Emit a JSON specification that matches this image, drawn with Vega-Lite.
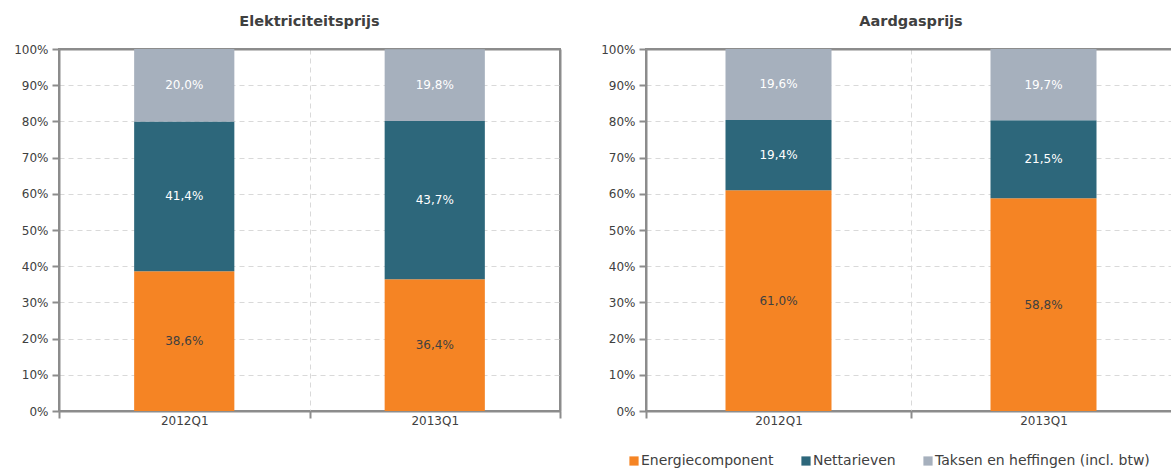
{
  "$schema": "https://vega.github.io/schema/vega-lite/v6.json",
  "background": "white",
  "padding": {"left": 12, "top": 12, "right": 0, "bottom": 0},
  "spacing": 37,
  "config": {
    "locale": {"number": {"decimal": ",", "thousands": ".", "grouping": [3], "currency": ["€", ""]}},
    "font": "DejaVu Sans",
    "view": {"stroke": "#8c8c8c", "strokeWidth": 2},
    "title": {"fontSize": 14.5, "fontWeight": "bold", "color": "#404040", "offset": 14, "font": "DejaVu Sans"},
    "axis": {
      "labelColor": "#404040", "labelFontSize": 12, "labelFont": "DejaVu Sans", "labelOverlap": false,
      "domainColor": "#8c8c8c", "domainWidth": 2, "tickColor": "#8c8c8c", "tickWidth": 2, "tickSize": 7,
      "gridColor": "#d9d9d9", "gridDash": [5, 4], "gridWidth": 1, "title": null
    }
  },
  "resolve": {"scale": {"color": "independent"}, "legend": {"color": "independent"}},
  "datasets": {
    "prijzen": [
      {"prijs": "Elektriciteitsprijs", "kwartaal": "2012Q1", "component": "Energiecomponent", "waarde": 0.386},
      {"prijs": "Elektriciteitsprijs", "kwartaal": "2012Q1", "component": "Nettarieven", "waarde": 0.414},
      {"prijs": "Elektriciteitsprijs", "kwartaal": "2012Q1", "component": "Taksen en heffingen (incl. btw)", "waarde": 0.2},
      {"prijs": "Elektriciteitsprijs", "kwartaal": "2013Q1", "component": "Energiecomponent", "waarde": 0.364},
      {"prijs": "Elektriciteitsprijs", "kwartaal": "2013Q1", "component": "Nettarieven", "waarde": 0.437},
      {"prijs": "Elektriciteitsprijs", "kwartaal": "2013Q1", "component": "Taksen en heffingen (incl. btw)", "waarde": 0.198},
      {"prijs": "Aardgasprijs", "kwartaal": "2012Q1", "component": "Energiecomponent", "waarde": 0.61},
      {"prijs": "Aardgasprijs", "kwartaal": "2012Q1", "component": "Nettarieven", "waarde": 0.194},
      {"prijs": "Aardgasprijs", "kwartaal": "2012Q1", "component": "Taksen en heffingen (incl. btw)", "waarde": 0.196},
      {"prijs": "Aardgasprijs", "kwartaal": "2013Q1", "component": "Energiecomponent", "waarde": 0.588},
      {"prijs": "Aardgasprijs", "kwartaal": "2013Q1", "component": "Nettarieven", "waarde": 0.215},
      {"prijs": "Aardgasprijs", "kwartaal": "2013Q1", "component": "Taksen en heffingen (incl. btw)", "waarde": 0.197}
    ]
  },
  "hconcat": [
    {
      "width": 501,
      "height": 362,
      "title": "Elektriciteitsprijs",
      "data": {"name": "prijzen"},
      "transform": [{"filter": "datum.prijs === 'Elektriciteitsprijs'"}],
      "encoding": {
        "x": {"field": "kwartaal", "type": "nominal", "scale": {"paddingInner": 0, "paddingOuter": 0},
              "axis": {"labelAngle": 0, "tickBand": "extent", "grid": true, "labelPadding": -3,
                       "gridDash": {"condition": {"test": "datum.value === '2013Q1'", "value": []}, "value": [5, 4]},
                       "gridColor": {"condition": {"test": "datum.value === '2013Q1'", "value": "#8c8c8c"}, "value": "#d9d9d9"},
                       "gridWidth": {"condition": {"test": "datum.value === '2013Q1'", "value": 2}, "value": 1}}}
      },
      "layer": [
        {
          "mark": {"type": "bar", "width": {"band": 0.4}},
          "encoding": {
            "y": {"field": "waarde", "type": "quantitative", "stack": "zero",
                  "scale": {"domain": [0, 1], "nice": false},
                  "axis": {"format": ".0%", "values": [0, 0.1, 0.2, 0.3, 0.4, 0.5, 0.6, 0.7, 0.8, 0.9, 1], "labelPadding": 4,
                           "gridDash": {"condition": {"test": "datum.value === 1", "value": []}, "value": [5, 4]},
                           "gridColor": {"condition": {"test": "datum.value === 1", "value": "#8c8c8c"}, "value": "#d9d9d9"},
                           "gridWidth": {"condition": {"test": "datum.value === 1", "value": 2}, "value": 1}}},
            "color": {"field": "component", "type": "nominal",
                      "scale": {"domain": ["Energiecomponent", "Nettarieven", "Taksen en heffingen (incl. btw)"], "range": ["#F58424", "#2D677B", "#A6B0BD"]},
                      "legend": null},
            "order": {"field": "component", "type": "nominal", "sort": "ascending"}
          }
        },
        {
          "transform": [
            {"stack": "waarde", "groupby": ["kwartaal"], "sort": [{"field": "component", "order": "ascending"}], "as": ["v0", "v1"]},
            {"fold": ["v0", "v1"], "as": ["grens", "pos"]},
            {"aggregate": [{"op": "mean", "field": "pos", "as": "mid"}], "groupby": ["kwartaal", "component", "waarde"]}
          ],
          "mark": {"type": "text", "fontSize": 12, "font": "DejaVu Sans"},
          "encoding": {
            "y": {"field": "mid", "type": "quantitative",
                  "scale": {"domain": [0, 1], "nice": false},
                  "axis": {"format": ".0%", "values": [0, 0.1, 0.2, 0.3, 0.4, 0.5, 0.6, 0.7, 0.8, 0.9, 1], "labelPadding": 4,
                           "gridDash": {"condition": {"test": "datum.value === 1", "value": []}, "value": [5, 4]},
                           "gridColor": {"condition": {"test": "datum.value === 1", "value": "#8c8c8c"}, "value": "#d9d9d9"},
                           "gridWidth": {"condition": {"test": "datum.value === 1", "value": 2}, "value": 1}}},
            "text": {"field": "waarde", "type": "quantitative", "format": ".1%"},
            "color": {"condition": {"test": "datum.component === 'Energiecomponent'", "value": "#404040"}, "value": "#ffffff"}
          }
        }
      ]
    },
    {
      "width": 530,
      "height": 362,
      "title": "Aardgasprijs",
      "data": {"name": "prijzen"},
      "transform": [{"filter": "datum.prijs === 'Aardgasprijs'"}],
      "encoding": {
        "x": {"field": "kwartaal", "type": "nominal", "scale": {"paddingInner": 0, "paddingOuter": 0},
              "axis": {"labelAngle": 0, "tickBand": "extent", "grid": true, "labelPadding": -3}}
      },
      "layer": [
        {
          "mark": {"type": "bar", "width": {"band": 0.4}},
          "encoding": {
            "y": {"field": "waarde", "type": "quantitative", "stack": "zero",
                  "scale": {"domain": [0, 1], "nice": false},
                  "axis": {"format": ".0%", "values": [0, 0.1, 0.2, 0.3, 0.4, 0.5, 0.6, 0.7, 0.8, 0.9, 1], "labelPadding": 4,
                           "gridDash": {"condition": {"test": "datum.value === 1", "value": []}, "value": [5, 4]},
                           "gridColor": {"condition": {"test": "datum.value === 1", "value": "#8c8c8c"}, "value": "#d9d9d9"},
                           "gridWidth": {"condition": {"test": "datum.value === 1", "value": 2}, "value": 1}}},
            "color": {"field": "component", "type": "nominal",
                      "scale": {"domain": ["Energiecomponent", "Nettarieven", "Taksen en heffingen (incl. btw)"], "range": ["#F58424", "#2D677B", "#A6B0BD"]},
                      "legend": {"title": null, "orient": "none", "direction": "horizontal", "legendX": -19, "legendY": 405,
                                 "symbolType": "square", "symbolSize": 85, "symbolStrokeWidth": 0, "labelFontSize": 14,
                                 "labelColor": "#404040", "labelFont": "DejaVu Sans", "labelOffset": 0, "columnPadding": 25, "labelLimit": 300}},
            "order": {"field": "component", "type": "nominal", "sort": "ascending"}
          }
        },
        {
          "transform": [
            {"stack": "waarde", "groupby": ["kwartaal"], "sort": [{"field": "component", "order": "ascending"}], "as": ["v0", "v1"]},
            {"fold": ["v0", "v1"], "as": ["grens", "pos"]},
            {"aggregate": [{"op": "mean", "field": "pos", "as": "mid"}], "groupby": ["kwartaal", "component", "waarde"]}
          ],
          "mark": {"type": "text", "fontSize": 12, "font": "DejaVu Sans"},
          "encoding": {
            "y": {"field": "mid", "type": "quantitative",
                  "scale": {"domain": [0, 1], "nice": false},
                  "axis": {"format": ".0%", "values": [0, 0.1, 0.2, 0.3, 0.4, 0.5, 0.6, 0.7, 0.8, 0.9, 1], "labelPadding": 4,
                           "gridDash": {"condition": {"test": "datum.value === 1", "value": []}, "value": [5, 4]},
                           "gridColor": {"condition": {"test": "datum.value === 1", "value": "#8c8c8c"}, "value": "#d9d9d9"},
                           "gridWidth": {"condition": {"test": "datum.value === 1", "value": 2}, "value": 1}}},
            "text": {"field": "waarde", "type": "quantitative", "format": ".1%"},
            "color": {"condition": {"test": "datum.component === 'Energiecomponent'", "value": "#404040"}, "value": "#ffffff"}
          }
        }
      ]
    }
  ]
}
